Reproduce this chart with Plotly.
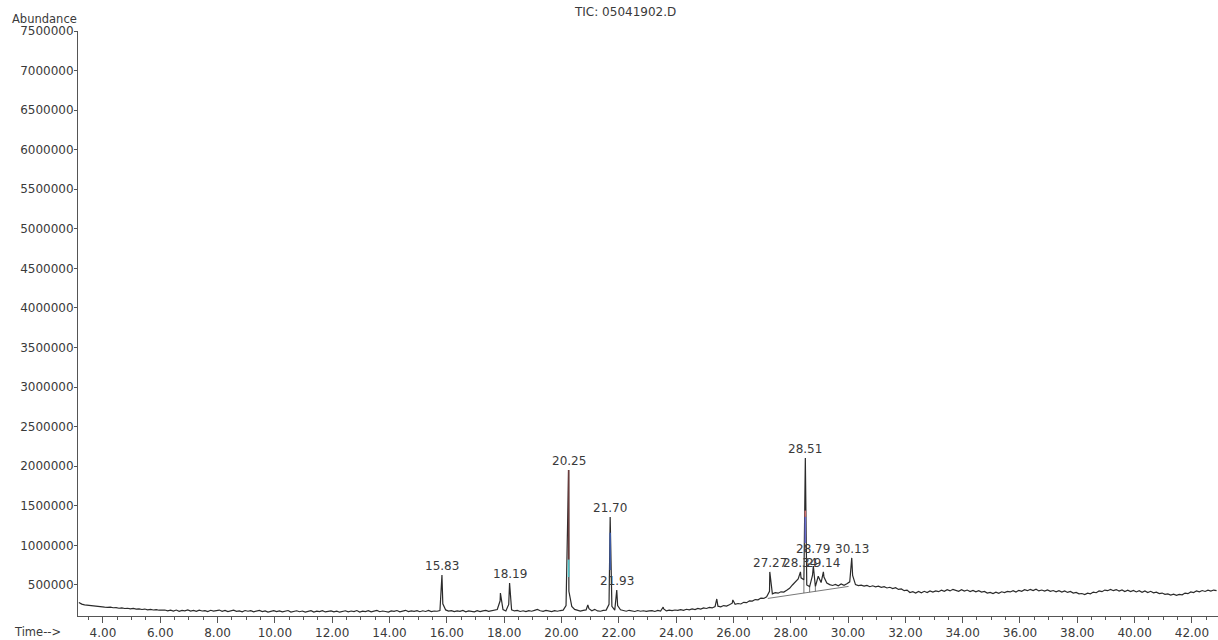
import numpy as np
import plotly.graph_objects as go

# TIC trace: detector scans start at 3.16 min, one reading every 0.10 min
scan_start_min = 3.16
scan_step_min = 0.10
tic_abundance_k = [
    280, 258, 248, 243, 237, 234, 229, 227, 224, 220,
    217, 221, 212, 214, 206, 211, 203, 206, 198, 203,
    195, 199, 190, 196, 186, 191, 184, 189, 181, 187,
    184, 172, 181, 170, 183, 168, 179, 174, 185, 169,
    178, 166, 182, 171, 176, 164, 180, 169, 175, 183,
    167, 178, 163, 174, 181, 166, 172, 160, 177, 168,
    175, 161, 170, 179, 164, 173, 158, 171, 176, 163,
    172, 160, 169, 177, 158, 168, 174, 162, 171, 157,
    167, 175, 158, 170, 163, 176, 159, 168, 173, 161,
    170, 156, 166, 174, 160, 171, 164, 177, 158, 169,
    163, 175, 160, 168, 178, 162, 171, 165, 158, 172,
    166, 177, 161, 170, 180, 164, 173, 167, 176, 162,
    174, 165, 178, 163, 171, 168, 176, 262, 185, 170,
    176, 163, 172, 166, 178, 161, 173, 168, 160, 175,
    164, 173, 178, 166, 175, 180, 190, 300, 190, 172,
    255, 186, 172, 178, 165, 174, 163, 176, 168, 179,
    190, 174, 166, 178, 170, 163, 175, 168, 177, 182,
    240, 420, 230, 192, 176, 170, 180, 185, 200, 174,
    192, 172, 168, 178, 182, 255, 230, 182, 240, 186,
    176, 168, 180, 171, 165, 177, 168, 174, 166, 172,
    176, 165, 178, 170, 200, 172, 181, 176, 184, 179,
    188, 180, 193, 186, 197, 190, 204, 196, 210, 203,
    216, 210, 226, 232, 224, 240, 234, 250, 270, 256,
    266, 260, 281, 276, 300, 296, 316, 312, 334, 330,
    350, 420, 388, 402, 396, 414, 410, 432, 458, 500,
    545, 575, 590, 565, 500, 480, 620, 480, 610, 530,
    600, 525, 505, 494, 508, 490, 512, 496, 515, 540,
    620, 505, 492, 498, 486, 494, 478, 490, 476, 484,
    470, 478, 462, 471, 455, 466, 444, 450, 428, 436,
    404, 415, 398, 418, 402, 420, 405, 424, 410, 425,
    415, 434, 420, 440, 425, 445, 428, 420, 440, 422,
    436, 418, 432, 414, 429, 410, 418, 398, 406, 392,
    408, 394, 414, 405, 418, 412, 428, 410, 432, 420,
    440, 428, 444, 430, 446, 425, 436, 422, 438, 420,
    430, 414, 428, 410, 424, 406, 418, 398, 405, 388,
    392, 378, 396, 388, 410, 402, 424, 415, 436, 428,
    444, 428, 442, 424, 438, 418, 434, 416, 430, 412,
    428, 408, 424, 404, 420, 400, 410, 392, 398, 382,
    388, 372, 384, 368, 380, 376, 398, 390, 412, 404,
    426, 414, 430, 418, 434, 422, 436, 428,
]

# Peak apexes (retention time in min, abundance) and which ones carry an RT label
peak_rt = [15.83, 17.87, 18.19, 20.25, 20.92, 21.70, 21.93, 23.55, 25.42,
           25.98, 27.27, 28.34, 28.51, 28.79, 29.14, 30.13]
peak_apex = [627000, 399000, 525000, 1953000, 247000, 1359000, 437000, 222000,
             323000, 311000, 665000, 665000, 2105000, 740000, 665000, 842000]
peak_labeled = [True, False, True, True, False, True, True, False, False,
                False, True, True, True, True, True, True]
# extra lift (px) for RT labels that the integrator pushed upward
label_lift_px = {28.79: 8}

# Manual integration baseline under the late hump, and the valley drop lines
integration_t = [27.20, 30.02]
integration_a = [330000, 482000]
drop_t = [28.46, 28.66, 28.86]

# Coloured ink on the three largest peaks: (rt, low, high, colour)
tint_rt = [20.25, 20.25, 21.70, 28.51, 28.51]
tint_lo = [820000, 600000, 690000, 1030000, 1360000]
tint_hi = [1953000, 820000, 1160000, 1360000, 1440000]
tint_color = ["#6b3b3b", "#4fc3c8", "#3e5ca8", "#6d6fd2", "#d07070"]

y_ticks = list(range(500000, 7500001, 500000))
x_ticks = list(range(4, 43, 2))

scan_t = scan_start_min + scan_step_min * np.arange(len(tic_abundance_k))
scan_a = np.array(tic_abundance_k, dtype=float) * 1000.0

t_all = np.concatenate([scan_t, np.array(peak_rt)])
a_all = np.concatenate([scan_a, np.array(peak_apex, dtype=float)])
order = np.argsort(t_all, kind="stable")
t_all, a_all = t_all[order], a_all[order]

FONT = "DejaVu Sans"
INK = "#3a3a3a"
TRACE = "#2b2b2b"

fig = go.Figure()

# integration baseline and drop lines
fig.add_trace(go.Scatter(
    x=integration_t, y=integration_a, mode="lines",
    line=dict(color="#555555", width=0.8),
    hoverinfo="skip", showlegend=False,
))
for dt in drop_t:
    base = np.interp(dt, integration_t, integration_a)
    top = np.interp(dt, t_all, a_all)
    fig.add_trace(go.Scatter(
        x=[dt, dt], y=[base, top], mode="lines",
        line=dict(color="#555555", width=0.8),
        hoverinfo="skip", showlegend=False,
    ))

fig.add_trace(go.Scatter(
    x=t_all, y=a_all, mode="lines",
    line=dict(color=TRACE, width=1.2),
    hoverinfo="skip", showlegend=False,
))

for rt, lo, hi, col in zip(tint_rt, tint_lo, tint_hi, tint_color):
    fig.add_trace(go.Scatter(
        x=[rt, rt], y=[lo, hi], mode="lines",
        line=dict(color=col, width=1.6),
        hoverinfo="skip", showlegend=False,
    ))

annotations = []
for rt, apex, lab in zip(peak_rt, peak_apex, peak_labeled):
    if not lab:
        continue
    annotations.append(dict(
        x=rt, y=apex, xref="x", yref="y", text=f"{rt:.2f}",
        showarrow=False, yanchor="bottom", yshift=label_lift_px.get(rt, 0),
        font=dict(family=FONT, size=12, color=INK),
    ))

annotations += [
    dict(text="Abundance", xref="paper", yref="paper", x=-0.06, y=1.005,
         xanchor="left", yanchor="bottom", showarrow=False,
         font=dict(family=FONT, size=11.5, color=INK)),
    dict(text="Time-->", xref="paper", yref="paper", x=-0.058, y=-0.0274,
         xanchor="left", yanchor="middle", showarrow=False,
         font=dict(family=FONT, size=11.5, color=INK)),
    dict(text="TIC: 05041902.D", xref="paper", yref="paper", x=0.48, y=1.033,
         xanchor="center", yanchor="middle", showarrow=False,
         font=dict(family=FONT, size=12, color=INK)),
]

fig.update_layout(
    width=1218, height=640,
    margin=dict(l=78, r=0, t=31, b=24),
    paper_bgcolor="white", plot_bgcolor="white",
    annotations=annotations,
    xaxis=dict(
        range=[3.13, 42.91], showgrid=False, zeroline=False,
        showline=True, linecolor="#555555", linewidth=1,
        ticks="outside", ticklen=6, tickcolor="#555555",
        tickvals=x_ticks, ticktext=[f"{v:.2f}" for v in x_ticks],
        tickfont=dict(family=FONT, size=12, color=INK),
        minor=dict(dtick=0.5, tick0=0, ticks="outside", ticklen=3,
                   tickcolor="#555555"),
    ),
    yaxis=dict(
        range=[108000, 7500000], showgrid=False, zeroline=False,
        showline=True, linecolor="#555555", linewidth=1,
        ticks="outside", ticklen=3, tickcolor="#555555",
        ticklabelstandoff=-2,
        tickvals=y_ticks, ticktext=[str(v) for v in y_ticks],
        tickfont=dict(family=FONT, size=12, color=INK),
    ),
)

fig.write_html("out.html")
